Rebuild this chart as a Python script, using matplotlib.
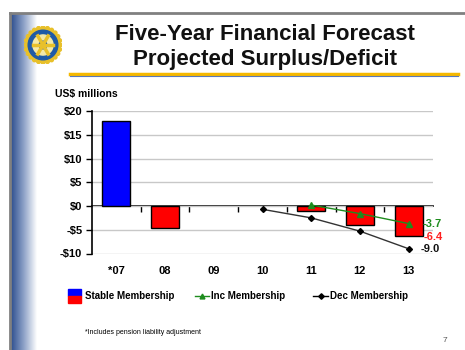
import numpy as np
import matplotlib
matplotlib.use('Agg')
import matplotlib.pyplot as plt
from matplotlib.patches import Rectangle, Circle, Wedge
from matplotlib.lines import Line2D

plt.rcParams['font.family'] = ['Liberation Sans', 'DejaVu Sans']

years = ['*07', '08', '09', '10', '11', '12', '13']
stable = [18.0, -4.7, 0.0, 0.0, -1.0, -3.9, -6.4]
inc_years = ['11', '12', '13']
inc = [0.2, -1.6, -3.7]
dec_years = ['10', '11', '12', '13']
dec = [-0.7, -2.5, -5.3, -9.0]

W, H = 465, 350
fig = plt.figure(figsize=(W / 100, H / 100), dpi=100)
fig.patch.set_facecolor('white')

def fx(px):
    return px / W

def fy(py):
    return 1 - py / H

# slide frame and left shaded band
grad = np.linspace(0, 1, 256).reshape(1, -1)
band = fig.add_axes([fx(11), 0, fx(25), fy(14)])
band.imshow(grad, aspect='auto', cmap=matplotlib.colors.LinearSegmentedColormap.from_list(
    'band', ['#2e4f8f', '#8fa3c8', '#ffffff']), extent=[0, 1, 0, 1])
band.axis('off')
fig.add_artist(Line2D([fx(10), 1], [fy(13), fy(13)], color='#808080', lw=2))
fig.add_artist(Line2D([fx(10), fx(10)], [0, fy(13)], color='#808080', lw=2))

# rotary wheel
logo = fig.add_axes([fx(24), fy(64), fx(38), fy(26) - fy(64)])
logo.set_xlim(-1, 1)
logo.set_ylim(-1, 1)
logo.set_aspect('equal')
logo.axis('off')
for k in range(24):
    a = 2 * np.pi * k / 24
    logo.add_patch(Circle((0.9 * np.cos(a), 0.9 * np.sin(a)), 0.1, color='#e8c02a'))
logo.add_patch(Circle((0, 0), 0.9, color='#e8c02a'))
logo.add_patch(Wedge((0, 0), 0.78, 0, 360, width=0.25, color='#1f5aa6'))
logo.add_patch(Circle((0, 0), 0.53, color='#f4e9a8'))
for k in range(6):
    a = np.pi * k / 3
    logo.plot([0, 0.55 * np.cos(a)], [0, 0.55 * np.sin(a)], color='#e8c02a', lw=2.5)
logo.add_patch(Circle((0, 0), 0.2, color='#1f5aa6'))
logo.add_patch(Circle((0, 0), 0.08, color='white'))

# title
fig.text(fx(265), fy(34), 'Five-Year Financial Forecast', ha='center', va='center',
         fontsize=16, fontweight='bold', color='#111111')
fig.text(fx(265), fy(60), 'Projected Surplus/Deficit', ha='center', va='center',
         fontsize=16, fontweight='bold', color='#111111')
fig.add_artist(Line2D([fx(70), fx(458)], [fy(73.5), fy(73.5)], color='#f5b800', lw=2.5))
fig.add_artist(Line2D([fx(70), fx(458)], [fy(76), fy(76)], color='#5a78b8', lw=0.8))

# chart
ax = fig.add_axes([fx(92), fy(253.5), fx(433) - fx(92), fy(111) - fy(253.5)])
x = np.arange(len(years))
vals = np.array(stable)
shown = vals != 0
colors = ['#0000ff'] + ['#ff0000'] * (len(years) - 1)
ax.bar(x[shown], vals[shown], width=0.58, color=np.array(colors)[shown],
       edgecolor='black', lw=1, zorder=3)

xi = [years.index(y) for y in inc_years]
xd = [years.index(y) for y in dec_years]
ax.plot(xi, inc, color='#1e8c1e', lw=1, marker='^', ms=4, zorder=5)
ax.plot(xd, dec, color='#333333', lw=1, marker='D', ms=3, mfc='black', mec='black', zorder=5)

ax.text(xi[-1] + 0.28, inc[-1], '%.1f' % inc[-1], color='#1e8c1e', fontsize=8,
        fontweight='bold', va='center', ha='left', zorder=6)
ax.text(xi[-1] + 0.3, stable[-1] - 0.2, '%.1f' % stable[-1], color='#ff2020', fontsize=8,
        fontweight='bold', va='center', ha='left', zorder=6)
ax.text(xd[-1] + 0.25, dec[-1], '%.1f' % dec[-1], color='#111111', fontsize=8,
        fontweight='bold', va='center', ha='left', zorder=6)

ax.set_xlim(-0.5, len(years) - 0.5)
ax.set_ylim(-10, 20)
ax.set_yticks(np.arange(-10, 21, 5))
ax.set_yticklabels(['-$%d' % -v if v < 0 else '$%d' % v for v in range(-10, 21, 5)],
                   fontsize=8, fontweight='bold')
ax.yaxis.grid(True, color='#c8c8c8', lw=1)
ax.set_axisbelow(True)
ax.tick_params(axis='y', length=4, width=1, pad=3)
ax.set_xticks(x)
ax.set_xticklabels(years, fontsize=8, fontweight='bold')
ax.tick_params(axis='x', length=0, pad=9)
for s in ['top', 'right', 'bottom']:
    ax.spines[s].set_visible(False)
ax.spines['left'].set_linewidth(1.2)

zero = ax.secondary_xaxis(10 / 30)
zero.set_xticks(np.arange(0.5, len(years) - 0.5, 1))
zero.set_xticklabels([])
zero.tick_params(length=4, width=1, direction='out')
zero.spines['bottom'].set_linewidth(1.2)

fig.text(fx(55), fy(94), 'US$ millions', fontsize=7.5, fontweight='bold', va='center')

# legend
fig.add_artist(Rectangle((fx(68), fy(296)), fx(13), fy(289) - fy(296), color='#0000ff'))
fig.add_artist(Rectangle((fx(68), fy(303)), fx(13), fy(296) - fy(303), color='#ff0000'))
fig.text(fx(85), fy(296), 'Stable Membership', fontsize=7, fontweight='bold', va='center')
fig.add_artist(Line2D([fx(195), fx(209)], [fy(296), fy(296)], color='#1e8c1e', lw=1))
fig.add_artist(Line2D([fx(202)], [fy(296)], color='#1e8c1e', marker='^', ms=3.5, lw=0))
fig.text(fx(211), fy(296), 'Inc Membership', fontsize=7, fontweight='bold', va='center')
fig.add_artist(Line2D([fx(313), fx(328)], [fy(296), fy(296)], color='black', lw=1))
fig.add_artist(Line2D([fx(320.5)], [fy(296)], color='black', marker='D', ms=2.8, lw=0))
fig.text(fx(330), fy(296), 'Dec Membership', fontsize=7, fontweight='bold', va='center')

fig.text(fx(85), fy(332), '*Includes pension liability adjustment', fontsize=5, va='center')
fig.text(fx(443), fy(341), '7', fontsize=6, color='#555555', va='center')

fig.savefig('out.png', dpi=100)
